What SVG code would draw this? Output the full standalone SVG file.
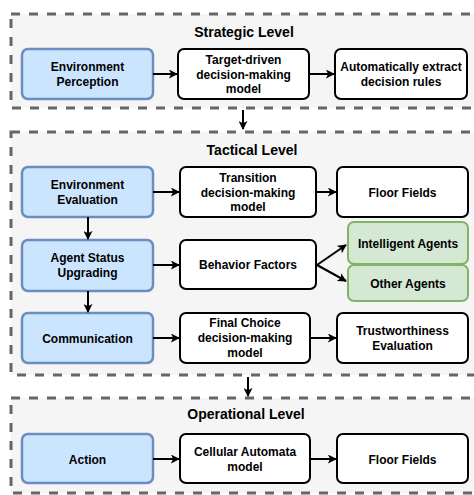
<svg xmlns="http://www.w3.org/2000/svg" width="474" height="495" viewBox="0 0 474 495">
<defs>
<marker id="ah" viewBox="0 0 10 10" refX="9" refY="5" markerWidth="4.5" markerHeight="4.5" orient="auto" markerUnits="strokeWidth">
<path d="M0,0 L10,5 L0,10 L2.5,5 Z" fill="#000"/>
</marker>
<style>
.lvl{fill:#f5f5f5;stroke:#666;stroke-width:3;stroke-dasharray:9 9}
.title{font-family:"Liberation Sans",Arial,sans-serif;font-weight:bold;font-size:14px;fill:#000;text-anchor:middle}
.t{font-family:"Liberation Sans",Arial,sans-serif;font-weight:bold;font-size:12px;fill:#000;text-anchor:middle}
.blue{fill:#cce5ff;stroke:#6c8ebf;stroke-width:2.5}
.white{fill:#fff;stroke:#000;stroke-width:2}
.green{fill:#d5e8d4;stroke:#82b366;stroke-width:2}
.c{fill:none;stroke:#000;stroke-width:2;marker-end:url(#ah)}
</style>
</defs>
<g id="levels">
<rect class="lvl" x="11" y="14" width="480" height="94"/>
<rect class="lvl" x="11" y="132" width="480" height="243"/>
<rect class="lvl" x="11" y="398" width="480" height="95"/>
<text class="title" x="244" y="37">Strategic Level</text>
<text class="title" x="252" y="155">Tactical Level</text>
<text class="title" x="246" y="419">Operational Level</text>
</g>
<g id="n1"><rect class="blue" x="22" y="49" width="131" height="50" rx="6"/><text class="t" x="87.5" y="71">Environment</text><text class="t" x="87.5" y="86">Perception</text></g>
<g id="n2"><rect class="white" x="178" y="49" width="131" height="50" rx="6"/><text class="t" x="243.5" y="64">Target-driven</text><text class="t" x="243.5" y="78.5">decision-making</text><text class="t" x="243.5" y="93">model</text></g>
<g id="n3"><rect class="white" x="335" y="49" width="132" height="50" rx="6"/><text class="t" x="401" y="71">Automatically extract</text><text class="t" x="401" y="86">decision rules</text></g>
<g id="n4"><rect class="blue" x="22" y="167" width="131" height="50" rx="6"/><text class="t" x="87.5" y="189">Environment</text><text class="t" x="87.5" y="204">Evaluation</text></g>
<g id="n5"><rect class="white" x="180" y="167" width="136" height="50" rx="6"/><text class="t" x="248" y="182">Transition</text><text class="t" x="248" y="196.5">decision-making</text><text class="t" x="248" y="211">model</text></g>
<g id="n6"><rect class="white" x="337" y="167" width="131" height="50" rx="6"/><text class="t" x="402.5" y="196.5">Floor Fields</text></g>
<g id="n7"><rect class="blue" x="22" y="240" width="131" height="51" rx="6"/><text class="t" x="87.5" y="262">Agent Status</text><text class="t" x="87.5" y="277">Upgrading</text></g>
<g id="n8"><rect class="white" x="180" y="240" width="136" height="49" rx="6"/><text class="t" x="248" y="269">Behavior Factors</text></g>
<g id="n9"><rect class="green" x="348" y="222" width="120" height="42" rx="6"/><text class="t" x="408" y="248">Intelligent Agents</text></g>
<g id="n10"><rect class="green" x="348" y="265" width="120" height="36" rx="6"/><text class="t" x="408" y="288">Other Agents</text></g>
<g id="n11"><rect class="blue" x="22" y="313" width="131" height="50" rx="6"/><text class="t" x="87.5" y="343">Communication</text></g>
<g id="n12"><rect class="white" x="180" y="313" width="130" height="50" rx="6"/><text class="t" x="245" y="327">Final Choice</text><text class="t" x="245" y="342">decision-making</text><text class="t" x="245" y="357">model</text></g>
<g id="n13"><rect class="white" x="337" y="313" width="131" height="50" rx="6"/><text class="t" x="402.5" y="335">Trustworthiness</text><text class="t" x="402.5" y="350">Evaluation</text></g>
<g id="n14"><rect class="blue" x="22" y="434" width="131" height="49" rx="6"/><text class="t" x="87.5" y="464">Action</text></g>
<g id="n15"><rect class="white" x="180" y="434" width="130" height="49" rx="6"/><text class="t" x="245" y="456">Cellular Automata</text><text class="t" x="245" y="471">model</text></g>
<g id="n16"><rect class="white" x="337" y="434" width="131" height="49" rx="6"/><text class="t" x="402.5" y="464">Floor Fields</text></g>
<g id="connectors">
<line class="c" x1="153" y1="74" x2="177" y2="74"/>
<line class="c" x1="309" y1="74" x2="334" y2="74"/>
<line class="c" x1="243" y1="110" x2="243" y2="129"/>
<line class="c" x1="153" y1="192" x2="179" y2="192"/>
<line class="c" x1="316" y1="192" x2="336" y2="192"/>
<line class="c" x1="88" y1="217" x2="88" y2="239"/>
<line class="c" x1="153" y1="265" x2="179" y2="265"/>
<line class="c" x1="317" y1="265" x2="346" y2="245"/>
<line class="c" x1="317" y1="265" x2="346" y2="281"/>
<line class="c" x1="88" y1="291" x2="88" y2="312"/>
<line class="c" x1="153" y1="338" x2="179" y2="338"/>
<line class="c" x1="310" y1="338" x2="336" y2="338"/>
<line class="c" x1="248" y1="377" x2="248" y2="396"/>
<line class="c" x1="153" y1="459" x2="179" y2="459"/>
<line class="c" x1="310" y1="459" x2="336" y2="459"/>
</g>
</svg>
